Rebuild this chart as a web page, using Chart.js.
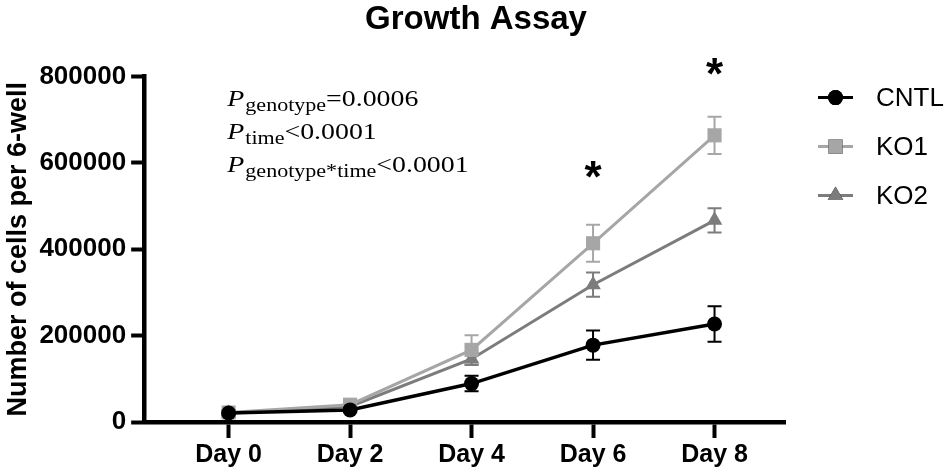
<!DOCTYPE html>
<html><head><meta charset="utf-8">
<script src="https://cdn.jsdelivr.net/npm/chart.js@4/dist/chart.umd.min.js"></script>
<style>html,body{margin:0;padding:0;background:#fff}canvas{display:block}</style>
</head><body>
<canvas id="c" width="950" height="472"></canvas>
<script>
// ---- data ----
const days = [0, 2, 4, 6, 8];
const dayLabels = ['Day 0', 'Day 2', 'Day 4', 'Day 6', 'Day 8'];
const seriesNames = ['CNTL', 'KO1', 'KO2'];
const cntlValues = [21000, 28000, 89000, 178000, 227000];
const cntlErrors = [5000, 5000, 18000, 34000, 41000];
const ko1Values = [22000, 40000, 167000, 414000, 664000];
const ko1Errors = [5000, 6000, 34000, 43000, 43000];
const ko2Values = [20000, 36000, 146000, 318000, 467000];
const ko2Errors = [4000, 5000, 14000, 28000, 28000];
const yTicks = [0, 200000, 400000, 600000, 800000];
const starDays = [6, 8];
const starValues = [580000, 818000];
const pTerms = ['genotype', 'time', 'genotype*time'];
const pValues = ['=0.0006', '<0.0001', '<0.0001'];

const colors = ['#000000', '#a6a6a6', '#7c7c7c'];
const styles = ['circle', 'rect', 'triangle'];
const radii = [7.5, 10, 9];
const lineWidths = [3.5, 3, 3];
const seriesValues = [cntlValues, ko1Values, ko2Values];
const seriesErrors = [cntlErrors, ko1Errors, ko2Errors];

const datasets = seriesNames.map((name, s) => ({
  label: name,
  data: days.map((d, i) => ({x: d, y: seriesValues[s][i]})),
  errors: seriesErrors[s],
  borderColor: colors[s],
  backgroundColor: colors[s],
  borderWidth: lineWidths[s],
  pointStyle: styles[s],
  pointRadius: radii[s],
  pointBorderWidth: 0,
  pointBackgroundColor: colors[s],
  tension: 0,
  clip: false
}));

const sans = '"Liberation Sans", Arial, sans-serif';
const serif = '"Liberation Serif", "Times New Roman", serif';

const errorBars = {
  id: 'errorBars',
  beforeDatasetsDraw(chart) {
    const {ctx} = chart; const xs = chart.scales.x, ys = chart.scales.y;
    chart.data.datasets.forEach((ds) => {
      ctx.save();
      ctx.strokeStyle = ds.borderColor; ctx.lineWidth = 2;
      ds.data.forEach((p, i) => {
        const e = ds.errors[i];
        const x = xs.getPixelForValue(p.x);
        const yT = ys.getPixelForValue(p.y + e), yB = ys.getPixelForValue(p.y - e);
        ctx.beginPath();
        ctx.moveTo(x, yT); ctx.lineTo(x, yB);
        ctx.moveTo(x - 7, yT); ctx.lineTo(x + 7, yT);
        ctx.moveTo(x - 7, yB); ctx.lineTo(x + 7, yB);
        ctx.stroke();
      });
      ctx.restore();
    });
  }
};

const extras = {
  id: 'extras',
  afterDraw(chart) {
    const {ctx, chartArea} = chart; const xs = chart.scales.x, ys = chart.scales.y;
    // stars
    ctx.save();
    ctx.fillStyle = '#000';
    ctx.font = 'bold 44px ' + sans;
    ctx.textAlign = 'center'; ctx.textBaseline = 'alphabetic';
    starDays.forEach((d, i) => {
      ctx.fillText('*', xs.getPixelForValue(d), ys.getPixelForValue(starValues[i]) + 20);
    });
    ctx.restore();
    // P-value annotation
    ctx.save();
    ctx.fillStyle = '#000'; ctx.textBaseline = 'alphabetic'; ctx.textAlign = 'left';
    const x0 = chartArea.left + 83;
    pTerms.forEach((t, i) => {
      const yb = chartArea.top + 29 + i * 33;
      ctx.save();
      ctx.translate(x0, yb);
      ctx.scale(1.16, 1);
      let x = 0;
      ctx.font = 'italic 24px ' + serif;
      ctx.fillText('P', x, 0); x += ctx.measureText('P').width + 1;
      ctx.font = '19px ' + serif;
      ctx.fillText(t, x, 5); x += ctx.measureText(t).width;
      ctx.font = '24px ' + serif;
      ctx.fillText(pValues[i], x, 0);
      ctx.restore();
    });
    ctx.restore();
    // legend
    ctx.save();
    chart.data.datasets.forEach((ds, i) => {
      const y = chartArea.top + 21 + i * 49;
      const lx = chartArea.right + 33;
      ctx.strokeStyle = ds.borderColor; ctx.lineWidth = 3;
      ctx.beginPath(); ctx.moveTo(lx, y); ctx.lineTo(lx + 35, y); ctx.stroke();
      Chart.helpers.drawPoint(ctx, {pointStyle: ds.pointStyle, radius: ds.pointRadius, borderWidth: 0, rotation: 0}, lx + 17.5, y);
      ctx.fillStyle = ds.borderColor;
      ctx.fill();
      ctx.fillStyle = '#000';
      ctx.font = '26px ' + sans;
      ctx.textAlign = 'left'; ctx.textBaseline = 'middle';
      ctx.fillText(ds.label, chartArea.right + 91, y + 1);
    });
    ctx.restore();
  }
};

const tickFont = {family: sans, size: 26, weight: 'bold'};

new Chart(document.getElementById('c'), {
  type: 'line',
  data: {datasets},
  plugins: [errorBars, extras],
  options: {
    responsive: false,
    animation: false,
    devicePixelRatio: 1,
    layout: {padding: {left: 2, right: 0, top: 0, bottom: 0}},
    plugins: {
      legend: {display: false},
      tooltip: {enabled: false},
      title: {display: true, text: 'Growth Assay', color: '#000',
        font: {family: sans, size: 33, weight: 'bold'}, padding: {top: 0, bottom: 37}}
    },
    scales: {
      x: {
        type: 'linear', min: -1.39, max: 9.16,
        afterBuildTicks: (s) => { s.ticks = days.map(v => ({value: v})); },
        ticks: {callback: (v) => dayLabels[days.indexOf(v)], font: {family: sans, size: 25, weight: 'bold'}, color: '#000', padding: 2, maxRotation: 0, autoSkip: false},
        grid: {drawOnChartArea: false, drawTicks: true, tickLength: 16, tickWidth: 4, tickColor: '#000'},
        border: {display: true, width: 4.5, color: '#000'}
      },
      y: {
        min: 0, max: 800000,
        afterBuildTicks: (s) => { s.ticks = yTicks.map(v => ({value: v})); },
        ticks: {callback: (v) => String(v), font: tickFont, color: '#000', padding: 5},
        grid: {drawOnChartArea: false, drawTicks: true, tickLength: 13, tickWidth: 4, tickColor: '#000'},
        border: {display: true, width: 4.5, color: '#000'},
        title: {display: true, text: 'Number of cells per 6-well', color: '#000',
          font: {family: sans, size: 27, weight: 'bold'}, padding: {top: 0, bottom: 0}}
      },
      legendSpace: {
        position: 'right', display: true,
        ticks: {display: false},
        grid: {display: false, drawTicks: false},
        border: {display: false},
        afterFit: (s) => { s.width = 165; }
      }
    }
  }
});
</script>
</body></html>
